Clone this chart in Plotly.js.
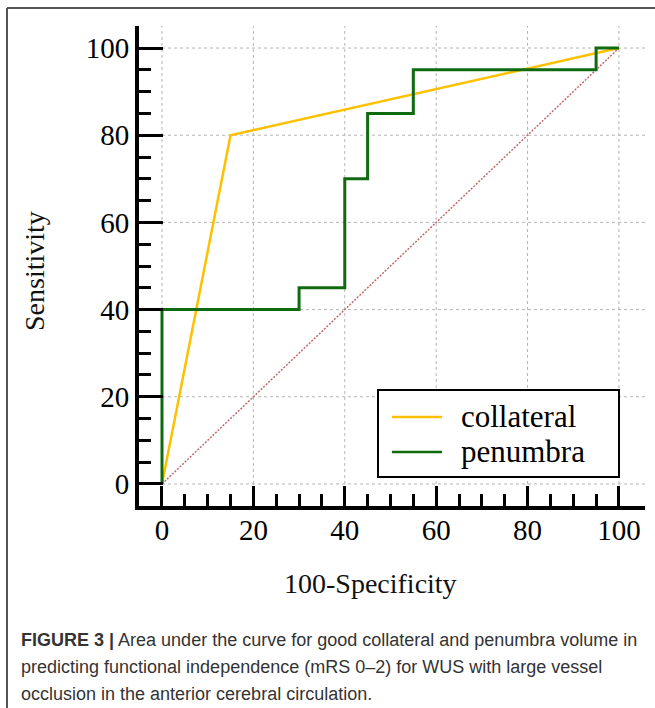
<!DOCTYPE html>
<html><head><meta charset="utf-8">
<script src="https://cdn.plot.ly/plotly-3.0.1.min.js"></script>
<style>body{margin:0;background:#fff}#chart{width:655px;height:708px}</style>
</head><body><div id="chart"></div>
<script>
// ROC data (100-Specificity vs Sensitivity)
const collateralX = [0, 15, 100];
const collateralY = [0, 80, 100];
const penumbraX = [0, 30, 40, 45, 55, 95, 100];
const penumbraY = [0, 40, 45, 70, 85, 95, 100];
const referenceX = [0, 100];
const referenceY = [0, 100];
const majorTicks = [0, 20, 40, 60, 80, 100];
const minorTicks = [5, 10, 15, 25, 30, 35, 45, 50, 55, 65, 70, 75, 85, 90, 95];
const seriesNames = ['collateral', 'penumbra'];
const seriesColors = ['#ffc000', '#106b10'];
const xTitle = '100-Specificity';
const yTitle = 'Sensitivity';
const captionLines = [
  '<b>FIGURE 3 |</b> Area under the curve for good collateral and penumbra volume in',
  'predicting functional independence (mRS 0–2) for WUS with large vessel',
  'occlusion in the anterior cerebral circulation.'
];

const W = 655, H = 708;
const M = {l: 139, r: 10, t: 26, b: 202};
const PW = W - M.l - M.r, PH = H - M.t - M.b;
const px = v => (v - M.l) / PW;
const py = v => (H - M.b - v) / PH;
const XR = [-5.03, 105.7], YR = [-5.05, 105.05];
const serif = 'Liberation Serif, Times New Roman, serif';
const sans = 'Liberation Sans Narrow, Arial Narrow, Liberation Sans, sans-serif';

const traces = [
  {x: referenceX, y: referenceY, mode: 'lines', showlegend: false, hoverinfo: 'skip',
   line: {color: '#c06a6a', width: 1.5, dash: '2px,1.5px'}},
  {x: collateralX, y: collateralY, mode: 'lines', name: seriesNames[0], showlegend: false,
   line: {color: seriesColors[0], width: 2.5}},
  {x: penumbraX, y: penumbraY, mode: 'lines', name: seriesNames[1], showlegend: false,
   line: {color: seriesColors[1], width: 3, shape: 'vh'}}
];

const shapes = [];
const grid = {color: '#b4b4b4', width: 1, dash: 'dot'};
majorTicks.forEach(t => {
  shapes.push({type: 'line', xref: 'x', yref: 'y', x0: t, x1: t, y0: 0, y1: YR[1], line: grid, layer: 'below'});
  shapes.push({type: 'line', xref: 'x', yref: 'y', x0: 0, x1: XR[1], y0: t, y1: t, line: grid, layer: 'below'});
});
// figure frame (top and left)
shapes.push({type: 'line', xref: 'paper', yref: 'paper', x0: px(7), x1: px(655), y0: py(8), y1: py(8), line: {color: '#555', width: 2}});
shapes.push({type: 'line', xref: 'paper', yref: 'paper', x0: px(7), x1: px(7), y0: py(8), y1: py(708), line: {color: '#555', width: 2}});

const annotations = [
  {text: xTitle, xref: 'paper', yref: 'paper', x: px(370), y: py(583), xanchor: 'center', yanchor: 'middle',
   showarrow: false, font: {family: serif, size: 28, color: '#111'}},
  {text: yTitle, xref: 'paper', yref: 'paper', x: px(34), y: py(271), xanchor: 'center', yanchor: 'middle',
   textangle: -90, showarrow: false, font: {family: serif, size: 28, color: '#111'}}
];

// legend box drawn manually
shapes.push({type: 'rect', xref: 'paper', yref: 'paper', x0: px(378), x1: px(619), y0: py(477), y1: py(390),
  fillcolor: '#fff', line: {color: '#000', width: 2}});
seriesNames.forEach((n, i) => {
  const yy = 417 + i * 35;
  shapes.push({type: 'line', xref: 'paper', yref: 'paper', x0: px(392), x1: px(442), y0: py(yy), y1: py(yy),
    line: {color: seriesColors[i], width: 2.5}});
  annotations.push({text: n, xref: 'paper', yref: 'paper', x: px(459), y: py(yy - 1), xanchor: 'left', yanchor: 'middle',
    showarrow: false, font: {family: serif, size: 31, color: '#000'}});
});

captionLines.forEach((t, i) => {
  annotations.push({text: t, xref: 'paper', yref: 'paper', x: px(19), y: py(640 + i * 27),
    xanchor: 'left', yanchor: 'middle', align: 'left', showarrow: false,
    font: {family: sans, size: 18, color: '#333'}});
});

const axisCommon = {
  tickmode: 'array', tickvals: majorTicks, ticks: 'inside', tickwidth: 3, tickcolor: '#000',
  showline: true, linewidth: 4, linecolor: '#000', showgrid: false, zeroline: false,
  tickfont: {family: serif, size: 29, color: '#000'},
  minor: {tickmode: 'array', tickvals: minorTicks, ticks: 'inside', ticklen: 12, tickwidth: 3, tickcolor: '#000', showgrid: false}
};

const layout = {
  width: W, height: H, margin: M, paper_bgcolor: '#fff', plot_bgcolor: '#fff',
  showlegend: false,
  xaxis: Object.assign({}, axisCommon, {range: XR, ticklen: 20, ticklabelstandoff: -5}),
  yaxis: Object.assign({}, axisCommon, {range: YR, ticklen: 24}),
  shapes: shapes, annotations: annotations
};

Plotly.newPlot('chart', traces, layout, {displayModeBar: false, staticPlot: true});
</script></body></html>
